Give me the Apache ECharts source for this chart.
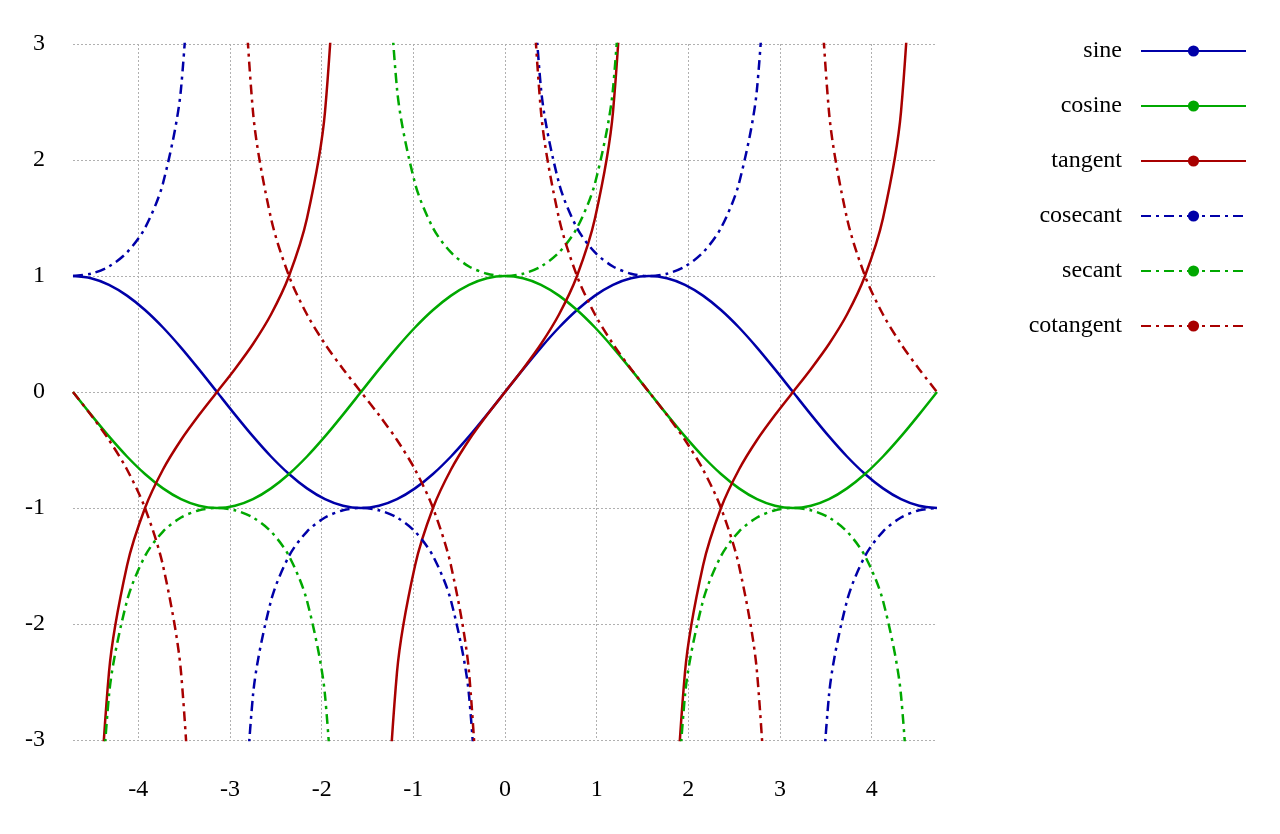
<!DOCTYPE html>
<html>
<head>
<meta charset="utf-8">
<script src="https://cdn.jsdelivr.net/npm/echarts@6/dist/echarts.min.js"></script>
<style>html,body{margin:0;padding:0;background:#fff}#main{width:1280px;height:834px}</style>
</head>
<body>
<div id="main"></div>
<script>
// sample positions: multiples of pi/16 from -3pi/2 to 3pi/2
var steps = [];
for (var k = -24; k <= 24; k++) steps.push(k);
var xs = steps.map(function (k) { return k * Math.PI / 16; });

var sine = [1,.981,.924,.831,.707,.556,.383,.195,0,-.195,-.383,-.556,-.707,-.831,-.924,-.981,-1,-.981,-.924,-.831,-.707,-.556,-.383,-.195,0,
  .195,.383,.556,.707,.831,.924,.981,1,.981,.924,.831,.707,.556,.383,.195,0,-.195,-.383,-.556,-.707,-.831,-.924,-.981,-1];
var cosine = [0,-.195,-.383,-.556,-.707,-.831,-.924,-.981,-1,-.981,-.924,-.831,-.707,-.556,-.383,-.195,0,.195,.383,.556,.707,.831,.924,.981,1,
  .981,.924,.831,.707,.556,.383,.195,0,-.195,-.383,-.556,-.707,-.831,-.924,-.981,-1,-.981,-.924,-.831,-.707,-.556,-.383,-.195,0];
var tangent = [null,
  -5.027,-2.414,-1.497,-1,-.668,-.414,-.199,0,.199,.414,.668,1,1.497,2.414,5.027, null,
  -5.027,-2.414,-1.497,-1,-.668,-.414,-.199,0,.199,.414,.668,1,1.497,2.414,5.027, null,
  -5.027,-2.414,-1.497,-1,-.668,-.414,-.199,0,.199,.414,.668,1,1.497,2.414,5.027, null];
var cotangent = [0,-.199,-.414,-.668,-1,-1.497,-2.414,-5.027, null,
  5.027,2.414,1.497,1,.668,.414,.199,0,-.199,-.414,-.668,-1,-1.497,-2.414,-5.027, null,
  5.027,2.414,1.497,1,.668,.414,.199,0,-.199,-.414,-.668,-1,-1.497,-2.414,-5.027, null,
  5.027,2.414,1.497,1,.668,.414,.199,0];
var cosecant = [1,1.02,1.082,1.203,1.414,1.8,2.613,5.126, null,
  -5.126,-2.613,-1.8,-1.414,-1.203,-1.082,-1.02,-1,-1.02,-1.082,-1.203,-1.414,-1.8,-2.613,-5.126, null,
  5.126,2.613,1.8,1.414,1.203,1.082,1.02,1,1.02,1.082,1.203,1.414,1.8,2.613,5.126, null,
  -5.126,-2.613,-1.8,-1.414,-1.203,-1.082,-1.02,-1];
var secant = [null,
  -5.126,-2.613,-1.8,-1.414,-1.203,-1.082,-1.02,-1,-1.02,-1.082,-1.203,-1.414,-1.8,-2.613,-5.126, null,
  5.126,2.613,1.8,1.414,1.203,1.082,1.02,1,1.02,1.082,1.203,1.414,1.8,2.613,5.126, null,
  -5.126,-2.613,-1.8,-1.414,-1.203,-1.082,-1.02,-1,-1.02,-1.082,-1.203,-1.414,-1.8,-2.613,-5.126, null];

var names = ['sine', 'cosine', 'tangent', 'cosecant', 'secant', 'cotangent'];
var values = [sine, cosine, tangent, cosecant, secant, cotangent];
var colors = ['#0000a8', '#00a800', '#a80000', '#0000a8', '#00a800', '#a80000'];

var font = '"Liberation Serif", "DejaVu Serif", serif';
var myChart = echarts.init(document.getElementById('main'));

var series = names.map(function (n, i) {
    return {
        name: n,
        type: 'line',
        data: xs.map(function (x, j) { return [x, values[i][j]]; }),
        symbol: 'none',
        showSymbol: false,
        connectNulls: false,
        smooth: 0.3,
        clip: true,
        animation: false,
        color: colors[i],
        lineStyle: { width: 2.5, color: colors[i], type: i < 3 ? 'solid' : [10, 5, 3, 5] }
    };
});

myChart.setOption({
    animation: false,
    grid: { left: 73, right: 343, top: 44, bottom: 94 },
    legend: {
        orient: 'vertical', right: 28, top: 34, align: 'right',
        itemWidth: 105, itemHeight: 14, itemGap: 31,
        textStyle: { fontFamily: font, fontSize: 24, color: '#000', padding: [0, 14, 0, 0] },
        data: names
    },
    xAxis: {
        type: 'value', min: -3 * Math.PI / 2, max: 3 * Math.PI / 2, splitNumber: 10,
        axisLine: { show: false }, axisTick: { show: false },
        axisLabel: { fontFamily: font, fontSize: 24, color: '#000', margin: 38, showMinLabel: false, showMaxLabel: false },
        splitLine: { show: true, showMinLine: false, showMaxLine: false, lineStyle: { color: '#b0b0b0', type: [2, 2], width: 1 } }
    },
    yAxis: {
        type: 'value', min: -3, max: 3, interval: 1,
        axisLine: { show: false }, axisTick: { show: false },
        axisLabel: { fontFamily: font, fontSize: 24, color: '#000', margin: 28 },
        splitLine: { show: true, lineStyle: { color: '#b0b0b0', type: [2, 2], width: 1 } }
    },
    series: series
});
</script>
</body>
</html>
